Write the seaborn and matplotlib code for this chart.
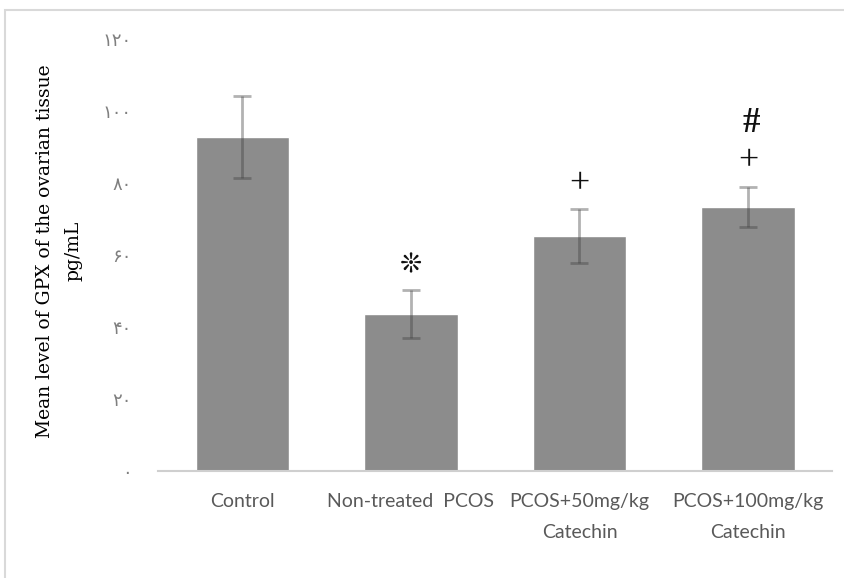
import matplotlib
matplotlib.use("Agg")
import matplotlib.pyplot as plt
import seaborn as sns
import pandas as pd
import numpy as np
from matplotlib.patches import Rectangle

# ---- data ----
categories = ["Control", "Non-treated  PCOS", "PCOS+50mg/kg\nCatechin", "PCOS+100mg/kg\nCatechin"]
means = [92.8, 43.6, 65.3, 73.3]
errors = [11.4, 6.6, 7.4, 5.6]
ytick_values = [0, 20, 40, 60, 80, 100, 120]
ytick_labels = ["۰", "۲۰", "۴۰", "۶۰", "۸۰", "۱۰۰", "۱۲۰"]
sig_symbols = ["❊", "+", "+", "#"]
sig_groups = [1, 2, 3, 3]
sig_y = [57.0, 79.5, 86.0, 96.5]
ylabel_text = "Mean level of GPX of the ovarian tissue\npg/mL"

df = pd.DataFrame({"group": categories, "mean": means, "err": errors})

sns.set_theme(style="white")
plt.rcParams["font.family"] = ["DejaVu Sans"]

fig = plt.figure(figsize=(8.45, 5.78), dpi=100)
ax = fig.add_axes([0.187, 0.185, 0.798, 0.7475])

sns.barplot(data=df, x="group", y="mean", color="#8c8c8c", saturation=1,
            width=0.555, errorbar=None, ax=ax)
xpos = np.arange(len(categories))
ax.errorbar(xpos, df["mean"], yerr=df["err"], fmt="none",
            ecolor=(0.25, 0.25, 0.25, 0.4), elinewidth=2, capsize=6.5, capthick=2)

ax.set_xlim(-0.5, 3.5)
ax.set_ylim(0, 120)
for s in ["top", "right", "left"]:
    ax.spines[s].set_visible(False)
ax.spines["bottom"].set_color("#cfcfcf")
ax.spines["bottom"].set_linewidth(1.5)

ax.set_yticks(ytick_values)
ax.set_yticklabels(ytick_labels, fontsize=13, color="#7f7f7f", family="DejaVu Sans")
ax.tick_params(axis="y", length=0, pad=19)
ax.set_xticks(xpos)
ax.set_xticklabels(categories, fontsize=14, color="#595959",
                   family=["Lato", "DejaVu Sans"], linespacing=2.0)
ax.tick_params(axis="x", length=0, pad=16)
ax.set_xlabel("")
ax.set_ylabel("")

fig.text(59 / 845, (578 - 251) / 578, ylabel_text, rotation=90, ha="center", va="center",
         fontsize=13.5, family=["DejaVu Serif"], color="#000000", linespacing=1.75,
         multialignment="center")

for sym, g, yv in zip(sig_symbols, sig_groups, sig_y):
    if sym == "❊":
        ax.text(g, yv, sym, ha="center", va="center", fontsize=19, color="#111111",
                family=["DejaVu Sans"], fontweight="bold")
    elif sym == "+":
        ax.text(g, yv, sym, ha="center", va="center", fontsize=26, color="#111111",
                family=["Liberation Serif"])
    else:
        ax.text(g + 0.02, yv, sym, ha="center", va="center", fontsize=25, color="#111111",
                family=["Liberation Serif"], fontweight="bold")

fig.add_artist(Rectangle((5 / 845, -0.1), 1.2, (578 - 10) / 578 + 0.1,
                         transform=fig.transFigure, fill=False,
                         edgecolor="#d9d9d9", linewidth=1.5))

fig.savefig("out.png", dpi=100)
